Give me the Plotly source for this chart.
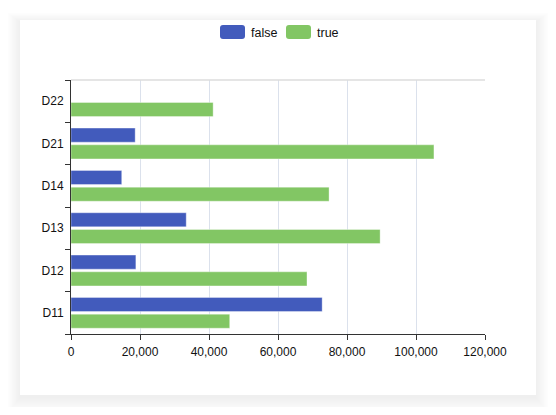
"""
Grouped horizontal bar chart: false / true counts per D-code.
"""
import plotly.graph_objects as go

# ---------------------------------------------------------------------------
# Data
# ---------------------------------------------------------------------------
categories = ["D11", "D12", "D13", "D14", "D21", "D22"]
false_vals = [72800, 18800, 33400, 14700, 18600, None]
true_vals = [46000, 68400, 89600, 74800, 105200, 41200]
x_ticks = [0, 20000, 40000, 60000, 80000, 100000, 120000]

BLUE = "#425bbc"
GREEN = "#82c664"

# the page body has an 8px margin, so the figure is drawn 8px in
OFF = 8
W, H = 556 - 2 * OFF, 415 - 2 * OFF

# plot area in page pixels
L, R, T, B = 71, 485, 80, 334


def px_x(p):
    return (p - L) / (R - L)


def px_y(p):
    return (B - p) / (B - T)


def round_rect(x0, y0, x1, y1, r):
    """Rounded rectangle path (page pixels in, paper coords out)."""
    pts = [
        ("M", x0 + r, y0), ("L", x1 - r, y0), ("Q", x1, y0, x1, y0 + r),
        ("L", x1, y1 - r), ("Q", x1, y1, x1 - r, y1), ("L", x0 + r, y1),
        ("Q", x0, y1, x0, y1 - r), ("L", x0, y0 + r), ("Q", x0, y0, x0 + r, y0),
    ]
    out = []
    for p in pts:
        if p[0] == "Q":
            out.append(f"Q{px_x(p[1])},{px_y(p[2])} {px_x(p[3])},{px_y(p[4])}")
        else:
            out.append(f"{p[0]}{px_x(p[1])},{px_y(p[2])}")
    return " ".join(out) + " Z"


fig = go.Figure()

# true first so that false sits on top inside each group
fig.add_trace(go.Bar(
    y=categories, x=true_vals, name="true", orientation="h",
    marker=dict(color=GREEN, line=dict(color="rgba(255,255,255,0.35)", width=1)),
))
fig.add_trace(go.Bar(
    y=categories, x=false_vals, name="false", orientation="h",
    marker=dict(color=BLUE, line=dict(color="rgba(255,255,255,0.35)", width=1)),
))

# ---------------------------------------------------------------------------
# Card background with soft shadow
# ---------------------------------------------------------------------------
cx0, cx1, cy0, cy1 = 20, 536, 20, 395
shapes = []
for i in range(16, 0, -1):
    shapes.append(dict(
        type="rect", xref="paper", yref="paper", layer="below",
        x0=px_x(cx0 - i * 0.8), x1=px_x(cx1 + i * 0.8),
        y0=px_y(cy1 + i + 2), y1=px_y(cy0 - i * 0.6 + 2),
        line=dict(width=0), fillcolor="rgba(0,0,0,0.0045)",
    ))
shapes.append(dict(
    type="rect", xref="paper", yref="paper", layer="below",
    x0=px_x(cx0), x1=px_x(cx1), y0=px_y(cy1), y1=px_y(cy0),
    line=dict(width=0), fillcolor="white",
))
# light top border of the plot area
shapes.append(dict(
    type="line", xref="paper", yref="paper", layer="above",
    x0=0, x1=1, y0=1, y1=1, line=dict(color="#dddddd", width=1.5),
))

# legend drawn by hand: wide rounded swatches like the original
annotations = []
for name, color, sx in [("false", BLUE, 220), ("true", GREEN, 286)]:
    shapes.append(dict(
        type="path", xref="paper", yref="paper", layer="above",
        path=round_rect(sx, 25, sx + 25, 39, 3),
        fillcolor=color, line=dict(width=0),
    ))
    annotations.append(dict(
        text=name, xref="paper", yref="paper", showarrow=False,
        x=px_x(sx + 29), y=px_y(32.5), xanchor="left", yanchor="middle",
        font=dict(size=12.5, color="#111"),
    ))

fig.update_layout(
    width=W, height=H,
    paper_bgcolor="white",
    plot_bgcolor="rgba(0,0,0,0)",
    margin=dict(l=L - OFF, r=556 - OFF - R, t=T - OFF, b=415 - OFF - B, pad=0),
    font=dict(family="Liberation Sans, Arial, sans-serif", size=12, color="#111"),
    barmode="group",
    bargap=0.21,
    bargroupgap=0.16,
    showlegend=False,
    shapes=shapes,
    annotations=annotations,
    xaxis=dict(
        range=[0, 120000],
        tickvals=x_ticks,
        tickformat=",d",
        showgrid=True, gridcolor="#dbe1ec", gridwidth=1,
        zeroline=False,
        showline=True, linecolor="#333", linewidth=1,
        ticks="outside", ticklen=5, tickcolor="#333",
        ticklabelstandoff=2,
    ),
    yaxis=dict(
        categoryorder="array", categoryarray=categories,
        showgrid=False, zeroline=False,
        showline=True, linecolor="#333", linewidth=1,
        ticks="outside", ticklen=5, tickcolor="#333",
        tickson="boundaries",
        ticklabelstandoff=4,
    ),
)

fig.write_html("out.html")
